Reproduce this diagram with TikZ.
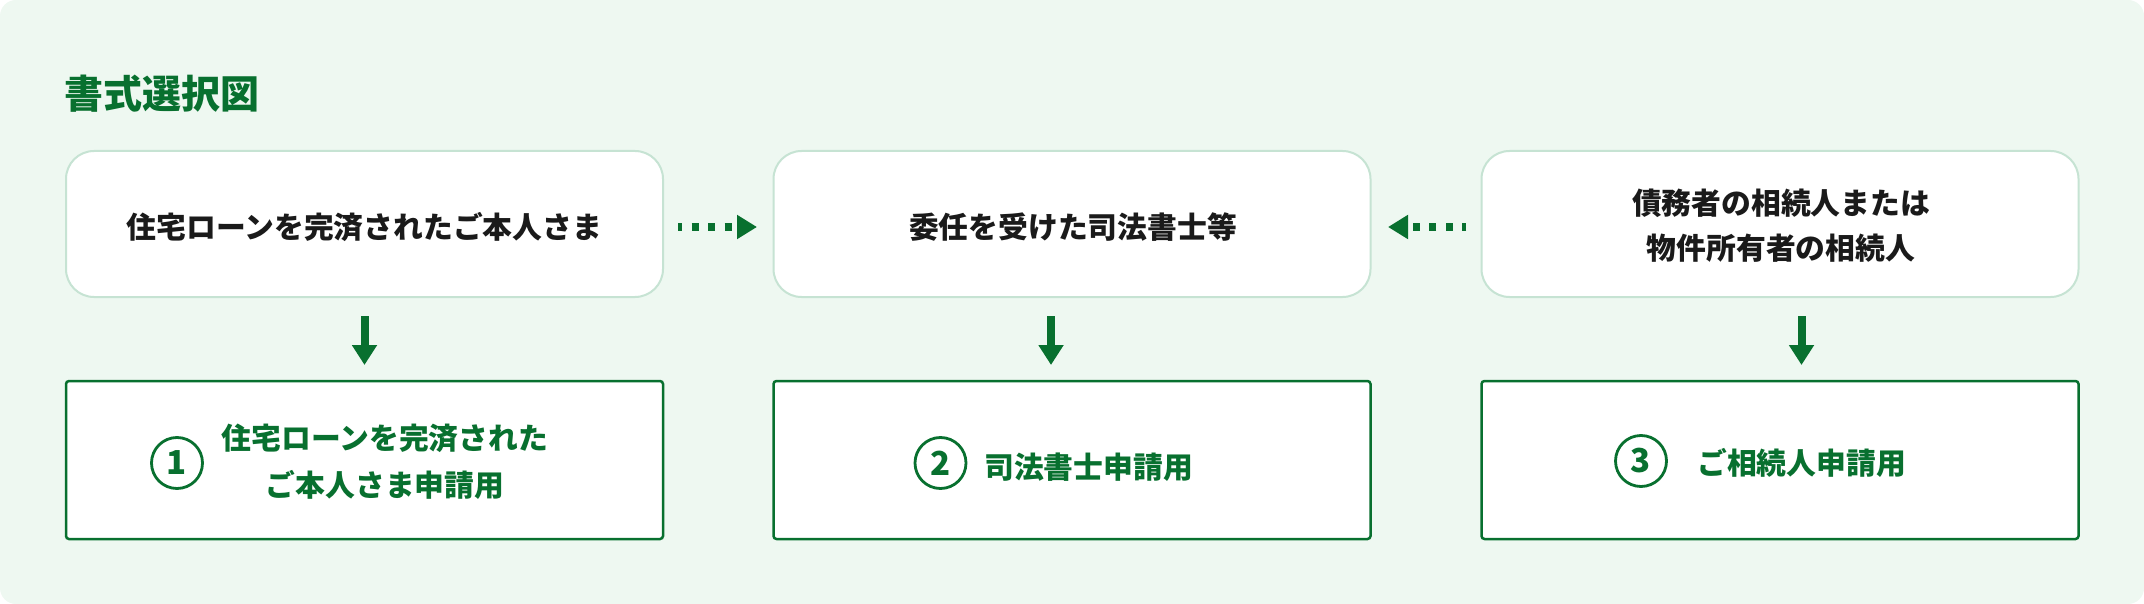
\documentclass[tikz,border=0pt]{standalone}
\usepackage{fontspec}
\setmainfont{Noto Sans CJK JP}
\usetikzlibrary{arrows.meta}
\definecolor{bg}{HTML}{EEF8F1}
\definecolor{gr}{HTML}{08702F}
\definecolor{lgr}{HTML}{C6E3D3}
\definecolor{ink}{HTML}{1A1A1A}
\tikzset{
  topbox/.style={draw=lgr, line width=2pt, fill=white, rounded corners=28pt,
    minimum width=597pt, minimum height=146pt, inner sep=0pt},
  botbox/.style={draw=gr, line width=2.5pt, fill=white, rounded corners=3pt,
    minimum width=597pt, minimum height=158pt, inner sep=0pt},
  toptext/.style={text=ink, font=\bfseries\fontsize{29.8}{45}\selectfont, align=center, inner sep=0pt},
  bottext/.style={text=gr, font=\bfseries\fontsize{29.8}{47}\selectfont, align=center, inner sep=0pt},
  numcirc/.style={circle, draw=gr, line width=2.8pt, minimum size=51pt, inner sep=0pt,
    text=gr, font=\bfseries\fontsize{33}{33}\selectfont},
  downarrow/.style={draw=gr, line width=8pt, -{Triangle[length=20pt,width=24pt]}},
  dotarrow/.style={draw=gr, line width=8pt, dash pattern=on 7pt off 9.5pt, dash phase=3pt,
    -{Triangle[length=20pt,width=23pt]}},
}
\begin{document}
\begin{tikzpicture}[x=1pt,y=-1pt]
\useasboundingbox (0,0) rectangle (2144,604);
\fill[bg, rounded corners=16pt] (0,0) rectangle (2144,604);

\node[anchor=west, text=gr, font=\bfseries\fontsize{39}{42}\selectfont, inner sep=0pt] (title) at (64,94) {書式選択図};

% top boxes
\node[topbox] (t1) at (364.5,224) {};
\node[topbox] (t2) at (1072,224) {};
\node[topbox] (t3) at (1780,224) {};
\node[toptext] (t1l) at (364.5,227) {住宅ローンを完済されたご本人さま};
\node[toptext] (t2l) at (1073,227) {委任を受けた司法書士等};
\node[toptext] (t3l) at (1781,226) {債務者の相続人または\\物件所有者の相続人};

% bottom boxes
\node[botbox] (b1) at (364.5,460) {};
\node[botbox] (b2) at (1072,460) {};
\node[botbox] (b3) at (1780,460) {};
\node[numcirc] (c1) at (177,463) {1};
\node[numcirc] (c2) at (940.5,463) {2};
\node[numcirc] (c3) at (1641,461) {3};
\node[bottext] (b1l) at (385,462) {住宅ローンを完済された\\ご本人さま申請用};
\node[bottext, anchor=west] (b2l) at (984,467) {司法書士申請用};
\node[bottext, anchor=west] (b3l) at (1697,463) {ご相続人申請用};

% connector endpoints
\coordinate (d1s) at (364.5,316); \coordinate (d1e) at (364.5,365);
\coordinate (d2s) at (1051,316);  \coordinate (d2e) at (1051,365);
\coordinate (d3s) at (1801.5,316); \coordinate (d3e) at (1801.5,365);
\coordinate (h1s) at (678,227); \coordinate (h1e) at (757,227);
\coordinate (h2s) at (1466,227); \coordinate (h2e) at (1388,227);

\draw[downarrow] (d1s) -- (d1e);
\draw[downarrow] (d2s) -- (d2e);
\draw[downarrow] (d3s) -- (d3e);
\draw[dotarrow] (h1s) -- (h1e);
\draw[dotarrow] (h2s) -- (h2e);
\end{tikzpicture}
\end{document}
